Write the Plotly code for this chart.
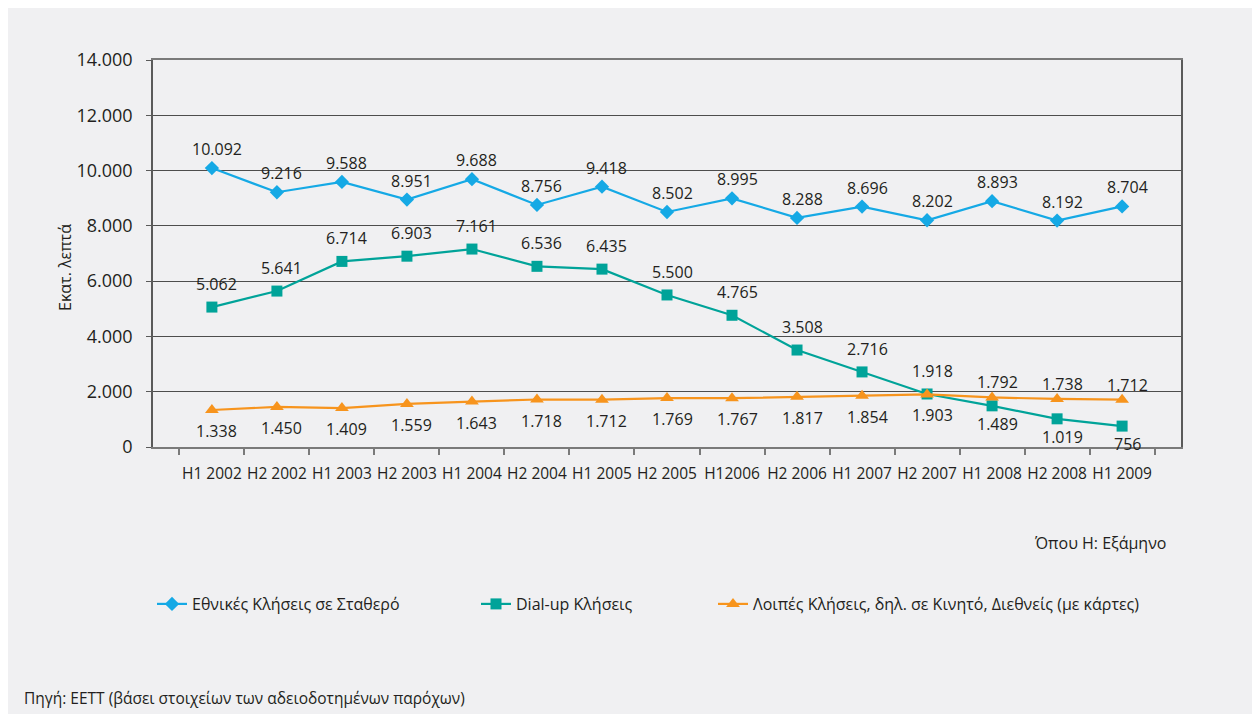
import plotly.graph_objects as go

categories = ["H1 2002", "H2 2002", "H1 2003", "H2 2003", "H1 2004", "H2 2004", "H1 2005",
              "H2 2005", "H12006", "H2 2006", "H1 2007", "H2 2007", "H1 2008", "H2 2008", "H1 2009"]
national_fixed = [10092, 9216, 9588, 8951, 9688, 8756, 9418, 8502, 8995, 8288, 8696, 8202, 8893, 8192, 8704]
dialup = [5062, 5641, 6714, 6903, 7161, 6536, 6435, 5500, 4765, 3508, 2716, 1918, 1489, 1019, 756]
other_calls = [1338, 1450, 1409, 1559, 1643, 1718, 1712, 1769, 1767, 1817, 1854, 1903, 1792, 1738, 1712]

series_names = ["Εθνικές Κλήσεις σε Σταθερό", "Dial-up Κλήσεις",
                "Λοιπές Κλήσεις, δηλ. σε Κινητό, Διεθνείς (με κάρτες)"]
y_ticks = [0, 2000, 4000, 6000, 8000, 10000, 12000, 14000]

# label placement (style, not data)
pos_national = ["above"] * 15
pos_dialup = ["above"] * 12 + ["below"] * 3
pos_other = ["below"] * 12 + ["above"] * 3

FONT = "Open Sans"
TXT = "#231f20"
BG = "#f0f0f2"
colors = ["#15a9e5", "#00a399", "#f7941d"]
symbols = ["diamond", "square", "triangle-up"]
msizes = [11, 11, 12]

W, H = 1260, 714
OFF = 8  # page body margin
# plot area in screen pixels: x 153..1181, y 60..447
ML = 153 - OFF
MT = 60 - OFF
MR = W - (1181 - OFF)
MB = H - (447 - OFF)
PW, PH = W - ML - MR, H - MT - MB


def px_x(p):
    return (p - OFF - ML) / PW


def px_y(p):
    return (H - MB - (p - OFF)) / PH


def fmt(v):
    return f"{v:,}".replace(",", ".")


fig = go.Figure()
all_series = [national_fixed, dialup, other_calls]
legend_ids = ["legend", "legend2", "legend3"]
for i, vals in enumerate(all_series):
    fig.add_trace(go.Scatter(
        x=categories, y=vals, name=series_names[i], mode="lines+markers",
        line=dict(color=colors[i], width=2.2),
        marker=dict(symbol=symbols[i], size=msizes[i], color=colors[i]),
        legend=legend_ids[i], hoverinfo="skip"))

annotations = []
positions = [pos_national, pos_dialup, pos_other]
shift_up = [19, 23, 15]
shift_down = [-20, -18, -21]
for i, vals in enumerate(all_series):
    for c, v, p in zip(categories, vals, positions[i]):
        annotations.append(dict(
            x=c, y=v, xref="x", yref="y", text=fmt(v), showarrow=False,
            xshift=5, yshift=shift_up[i] if p == "above" else shift_down[i],
            font=dict(family=FONT, size=16, color=TXT)))

annotations.append(dict(x=px_x(65), y=px_y(268), xref="paper", yref="paper",
                        xanchor="center", yanchor="middle",
                        text="Εκατ. λεπτά", textangle=-90, showarrow=False,
                        font=dict(family=FONT, size=16, color=TXT)))
annotations.append(dict(x=px_x(1168), y=px_y(543), xref="paper", yref="paper",
                        xanchor="right", yanchor="middle", text="Όπου Η: Εξάμηνο",
                        showarrow=False, font=dict(family=FONT, size=16, color=TXT)))
annotations.append(dict(x=px_x(22), y=px_y(698), xref="paper", yref="paper",
                        xanchor="left", yanchor="middle",
                        text="Πηγή: ΕΕΤΤ (βάσει στοιχείων των αδειοδοτημένων παρόχων)",
                        showarrow=False, font=dict(family=FONT, size=15.5, color=TXT)))

legend_x = [152, 476, 713]
legend_common = dict(orientation="h", yanchor="middle", xanchor="left",
                     bgcolor="rgba(0,0,0,0)", font=dict(family=FONT, size=16, color=TXT),
                     itemwidth=30)

fig.update_layout(
    width=W, height=H,
    margin=dict(l=ML, r=MR, t=MT, b=MB),
    paper_bgcolor=BG, plot_bgcolor=BG,
    separators=",.",
    showlegend=True,
    legend=dict(x=px_x(legend_x[0]), y=px_y(604), **legend_common),
    legend2=dict(x=px_x(legend_x[1]), y=px_y(604), **legend_common),
    legend3=dict(x=px_x(legend_x[2]), y=px_y(604), **legend_common),
    annotations=annotations,
    xaxis=dict(type="category", tickson="boundaries", ticks="outside", ticklen=6,
               tickcolor="#7a7a7a", tickwidth=1.5, showline=True, linecolor="#7a7a7a",
               linewidth=2, mirror=True, showgrid=False, ticklabelstandoff=11,
               tickangle=0,
               tickfont=dict(family=FONT, size=15.5, color=TXT), fixedrange=True),
    yaxis=dict(range=[0, 14000], tickvals=y_ticks, tickformat=",d", ticks="outside",
               ticklen=5, tickcolor="#5a5a5a", showline=True, linecolor="#5a5a5a",
               linewidth=1.5, mirror=True, showgrid=True, gridcolor="#4d4d4d",
               gridwidth=1, zeroline=False, ticklabelstandoff=10,
               tickfont=dict(family=FONT, size=18, color=TXT), fixedrange=True),
)

fig.write_html("out.html")
